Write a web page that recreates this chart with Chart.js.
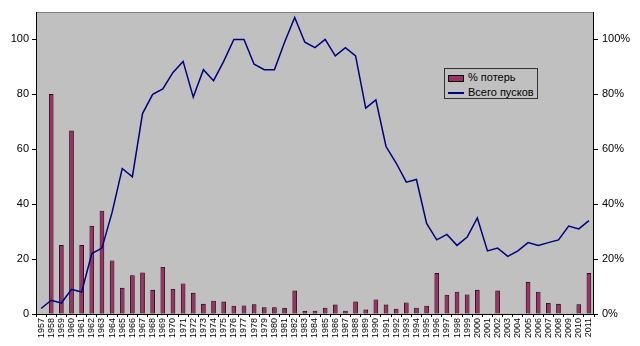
<!DOCTYPE html>
<html><head><meta charset="utf-8">
<script src="https://cdn.jsdelivr.net/npm/chart.js@4"></script>
<style>
html,body{margin:0;padding:0;background:#fff;}
#wrap{position:relative;width:640px;height:346px;}
#legend{position:absolute;left:444px;top:68px;width:92px;height:29px;border:1px solid #333;background:#c0c0c0;font:11px "Liberation Sans",Arial,sans-serif;color:#000;}
.row{position:absolute;left:3px;height:14px;line-height:14px;white-space:nowrap;}
.sw{display:inline-block;vertical-align:middle;width:15px;margin-right:4px;}
</style></head>
<body><div id="wrap"><canvas id="c" width="640" height="346"></canvas>
<div id="legend">
<div class="row" style="top:1px"><span class="sw" style="height:5px;background:#993366;border:1px solid #000;width:14px"></span><span id="l0"></span></div>
<div class="row" style="top:16px"><span class="sw" style="height:0;border-top:2px solid #000080;width:16px"></span><span id="l1"></span></div>
</div></div>
<script>
const years = [];
for (let y = 1957; y <= 2011; y++) years.push(String(y));
const lossPct = [0,80,25,66.7,25,32,37.5,19.4,9.4,14,15,8.7,17,9,11,7.6,3.6,4.7,4.4,2.9,3.0,3.4,2.3,2.3,2.1,8.4,1.0,1.1,2.2,3.3,1.1,4.4,1.5,5.2,3.3,1.8,4.1,2.2,2.9,14.8,6.9,8.0,7.0,8.7,0,8.4,0,0,11.6,8.0,3.9,3.6,0,3.4,14.8];
const launches = [2,5,4,9,8,22,24,37,53,50,73,80,82,88,92,79,89,85,92,100,100,91,89,89,99,108,99,97,100,94,97,94,75,78,61,55,48,49,33,27,29,25,28,35,23,24,21,23,26,25,26,27,32,31,34];
const seriesNames = ['% потерь','Всего пусков'];
const leftTicks = [0,20,40,60,80,100];

document.getElementById('l0').textContent = seriesNames[0];
document.getElementById('l1').textContent = seriesNames[1];

const bgPlugin = {
  id:'bg',
  beforeDraw(chart){
    const a = chart.chartArea, ctx = chart.ctx;
    ctx.save();
    ctx.fillStyle = '#c0c0c0';
    ctx.fillRect(a.left, a.top, a.right-a.left, a.bottom-a.top);
    ctx.restore();
  },
  afterDatasetsDraw(chart){
    const a = chart.chartArea, ctx = chart.ctx;
    ctx.save();
    ctx.strokeStyle = '#808080';
    ctx.lineWidth = 1;
    ctx.strokeRect(a.left+0.5, a.top+0.5, a.right-a.left-1, a.bottom-a.top);
    ctx.strokeStyle = '#000';
    ctx.beginPath();
    ctx.moveTo(a.left+0.5, a.top); ctx.lineTo(a.left+0.5, a.bottom);
    ctx.moveTo(a.right-0.5, a.top); ctx.lineTo(a.right-0.5, a.bottom);
    ctx.moveTo(a.left, a.bottom+0.5); ctx.lineTo(a.right, a.bottom+0.5);
    ctx.stroke();
    ctx.restore();
  }
};

const font = {family:'"Liberation Sans", Arial, sans-serif', size:11};
new Chart(document.getElementById('c'), {
  type:'bar',
  data:{
    labels: years,
    datasets:[
      {type:'line', label:seriesNames[1], data:launches, yAxisID:'y', borderColor:'#000080', borderWidth:1.5, pointRadius:0, tension:0, order:0},
      {type:'bar', label:seriesNames[0], data:lossPct, yAxisID:'y1', backgroundColor:'#993366', borderColor:'#000', borderWidth:0.6, barThickness:4, order:1}
    ]
  },
  options:{
    responsive:false, animation:false,
    layout:{padding:{top:12,left:0,right:0,bottom:0}},
    plugins:{legend:{display:false}, tooltip:{enabled:false}},
    scales:{
      x:{
        grid:{display:true, drawOnChartArea:false, color:'#000', tickLength:3, offset:true},
        border:{display:false},
        ticks:{font:{family:font.family,size:9}, color:'#000', minRotation:90, maxRotation:90, autoSkip:false, padding:1},
        afterFit(s){ s.height = 32; }
      },
      y:{
        position:'left', min:0, max:110,
        afterBuildTicks(s){ s.ticks = leftTicks.map(v=>({value:v})); },
        grid:{display:true, drawOnChartArea:false, color:'#000', tickLength:4},
        border:{display:false},
        ticks:{font:font, color:'#000', padding:3},
        afterFit(s){ s.width = 36; }
      },
      y1:{
        position:'right', min:0, max:110,
        afterBuildTicks(s){ s.ticks = leftTicks.map(v=>({value:v})); },
        grid:{display:true, drawOnChartArea:false, color:'#000', tickLength:4},
        border:{display:false},
        ticks:{font:font, color:'#000', padding:4, callback:v=>v+'%'},
        afterFit(s){ s.width = 46; }
      }
    }
  },
  plugins:[bgPlugin]
});
</script></body></html>
